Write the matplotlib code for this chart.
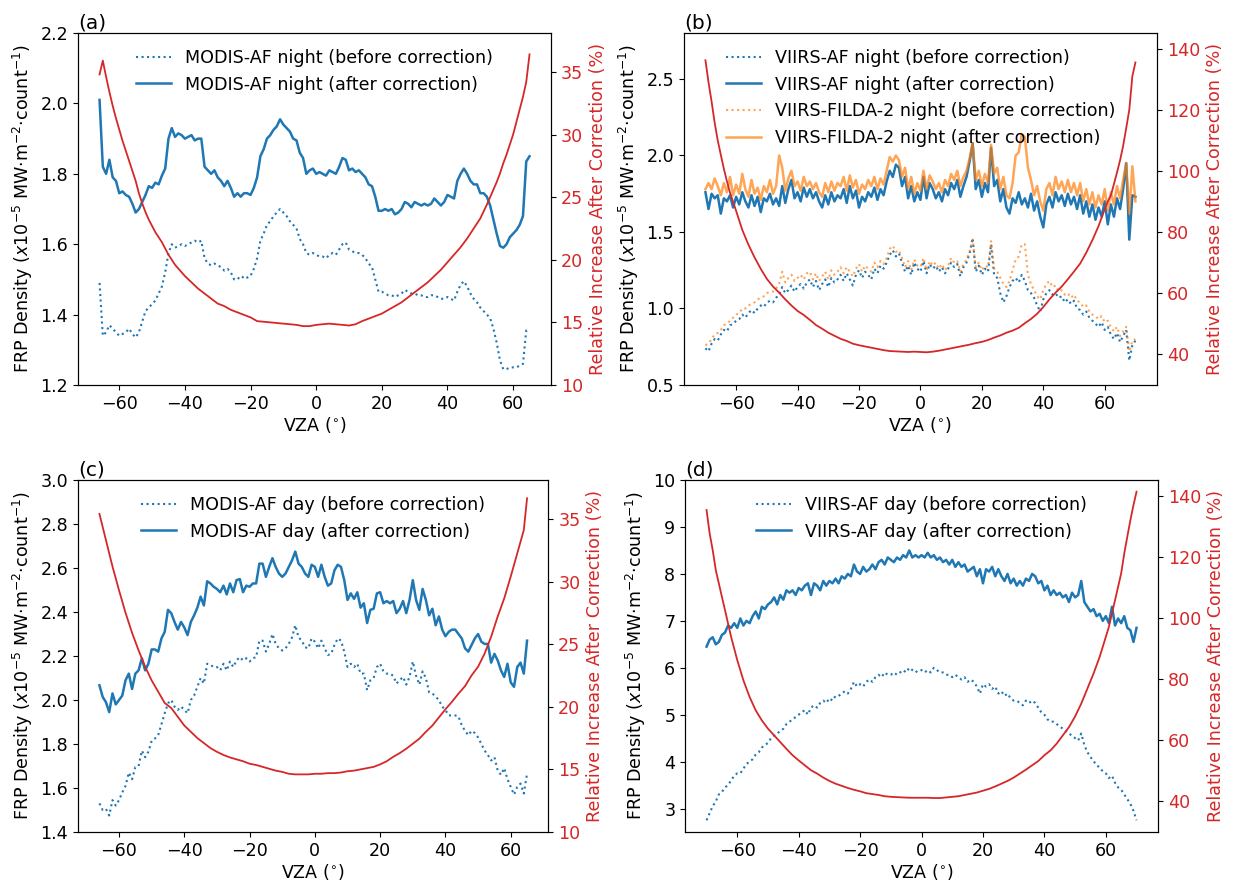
import numpy as np
import matplotlib
matplotlib.use("Agg")
import matplotlib.pyplot as plt

# ---------------- data ----------------
# Panel (a): MODIS-AF night, VZA -66..65 step 1
vza_modis = list(range(-66, 66))
modis_night_before = [
    1.49, 1.34, 1.35, 1.37, 1.36, 1.35, 1.34, 1.345, 1.35, 1.36, 1.345, 1.335, 1.35, 1.38, 1.41, 1.42,
    1.43, 1.44, 1.46, 1.48, 1.52, 1.575, 1.60, 1.59, 1.595, 1.60, 1.595, 1.60, 1.605, 1.61, 1.605, 1.61,
    1.56, 1.545, 1.54, 1.545, 1.54, 1.535, 1.525, 1.53, 1.52, 1.50, 1.505, 1.50, 1.51, 1.505, 1.51, 1.53,
    1.56, 1.61, 1.63, 1.655, 1.665, 1.68, 1.69, 1.70, 1.69, 1.68, 1.665, 1.655, 1.645, 1.615, 1.60, 1.575,
    1.57, 1.575, 1.57, 1.565, 1.565, 1.56, 1.57, 1.575, 1.57, 1.585, 1.60, 1.605, 1.585, 1.58, 1.575, 1.575,
    1.57, 1.56, 1.545, 1.535, 1.50, 1.465, 1.465, 1.46, 1.455, 1.455, 1.45, 1.455, 1.46, 1.47, 1.465, 1.46,
    1.46, 1.455, 1.455, 1.45, 1.45, 1.455, 1.455, 1.45, 1.445, 1.445, 1.45, 1.445, 1.44, 1.465, 1.485, 1.495,
    1.48, 1.46, 1.445, 1.435, 1.42, 1.41, 1.40, 1.39, 1.36, 1.32, 1.27, 1.245, 1.245, 1.25, 1.25, 1.25,
    1.255, 1.26, 1.355, 1.36]
modis_night_after = [
    2.01, 1.82, 1.80, 1.84, 1.79, 1.78, 1.745, 1.75, 1.74, 1.735, 1.715, 1.69, 1.70, 1.72, 1.74, 1.765,
    1.76, 1.775, 1.77, 1.795, 1.815, 1.90, 1.93, 1.905, 1.915, 1.91, 1.90, 1.905, 1.91, 1.895, 1.90, 1.90,
    1.82, 1.81, 1.80, 1.81, 1.79, 1.78, 1.765, 1.78, 1.76, 1.735, 1.745, 1.735, 1.745, 1.745, 1.74, 1.76,
    1.79, 1.85, 1.87, 1.90, 1.91, 1.925, 1.935, 1.955, 1.94, 1.93, 1.92, 1.90, 1.895, 1.86, 1.845, 1.80,
    1.81, 1.815, 1.80, 1.805, 1.80, 1.795, 1.81, 1.805, 1.80, 1.82, 1.845, 1.84, 1.81, 1.815, 1.805, 1.81,
    1.80, 1.79, 1.77, 1.765, 1.735, 1.695, 1.695, 1.70, 1.695, 1.70, 1.685, 1.69, 1.70, 1.72, 1.715, 1.705,
    1.72, 1.715, 1.71, 1.715, 1.71, 1.715, 1.73, 1.72, 1.71, 1.72, 1.74, 1.735, 1.73, 1.78, 1.80, 1.815,
    1.80, 1.78, 1.77, 1.77, 1.745, 1.745, 1.735, 1.71, 1.67, 1.63, 1.595, 1.59, 1.60, 1.62, 1.63, 1.64,
    1.655, 1.68, 1.835, 1.85]
vza_red_a = [-66, -65, -64, -63, -62, -61, -60, -59, -58, -57, -56, -55, -54, -53, -52, -51, -50, -49, -48,
             -47, -46, -45, -44, -43, -42, -41, -40, -38, -36, -34, -32, -30, -28, -26, -24, -22, -20, -18,
             -16, -14, -12, -10, -8, -6, -4, -2, 0, 2, 4, 6, 8, 10, 12, 14, 16, 18, 20, 22, 24, 26, 28, 30,
             32, 34, 36, 38, 40, 42, 44, 46, 48, 50, 52, 54, 55, 56, 57, 58, 59, 60, 61, 62, 63, 64, 65]
rel_inc_a = [34.8, 35.9, 34.6, 33.4, 32.3, 31.3, 30.4, 29.5, 28.7, 27.9, 27.1, 26.3, 25.3, 24.5, 23.8, 23.2,
             22.7, 22.2, 21.8, 21.4, 20.9, 20.4, 20.0, 19.6, 19.3, 19.0, 18.7, 18.2, 17.7, 17.3, 16.9, 16.5,
             16.3, 16.0, 15.8, 15.6, 15.4, 15.1, 15.05, 15.0, 14.95, 14.9, 14.85, 14.8, 14.7, 14.7, 14.8,
             14.85, 14.9, 14.85, 14.8, 14.75, 14.85, 15.1, 15.3, 15.5, 15.7, 16.0, 16.3, 16.6, 17.0, 17.4,
             17.8, 18.2, 18.7, 19.2, 19.8, 20.4, 21.0, 21.7, 22.5, 23.3, 24.4, 25.6, 26.2, 26.9, 27.7, 28.4,
             29.2, 30.0, 31.0, 32.0, 33.0, 34.2, 36.4]

# Panel (c): MODIS-AF day
modis_day_before = [
    1.53, 1.50, 1.505, 1.475, 1.545, 1.52, 1.545, 1.58, 1.61, 1.67, 1.64, 1.695, 1.70, 1.77, 1.74, 1.765,
    1.815, 1.825, 1.84, 1.89, 1.94, 1.985, 2.00, 1.97, 1.955, 1.97, 1.955, 1.94, 2.00, 2.02, 2.06, 2.10,
    2.075, 2.165, 2.16, 2.15, 2.15, 2.135, 2.165, 2.135, 2.175, 2.15, 2.18, 2.195, 2.18, 2.19, 2.175, 2.19,
    2.195, 2.27, 2.27, 2.22, 2.255, 2.30, 2.255, 2.235, 2.225, 2.235, 2.255, 2.285, 2.34, 2.285, 2.27, 2.24,
    2.235, 2.28, 2.265, 2.235, 2.27, 2.235, 2.205, 2.21, 2.25, 2.28, 2.27, 2.22, 2.15, 2.165, 2.15, 2.165,
    2.12, 2.12, 2.045, 2.09, 2.10, 2.15, 2.165, 2.13, 2.12, 2.12, 2.11, 2.075, 2.09, 2.105, 2.07, 2.105,
    2.175, 2.11, 2.07, 2.13, 2.10, 2.035, 2.03, 2.015, 2.00, 1.97, 1.955, 1.93, 1.93, 1.93, 1.925, 1.885,
    1.86, 1.84, 1.86, 1.85, 1.83, 1.80, 1.77, 1.75, 1.725, 1.74, 1.68, 1.66, 1.69, 1.64, 1.605, 1.57,
    1.605, 1.62, 1.575, 1.665]
modis_day_after = [
    2.067, 2.014, 1.99, 1.945, 2.03, 1.98, 2.00, 2.02, 2.09, 2.12, 2.05, 2.12, 2.135, 2.19, 2.135, 2.165,
    2.23, 2.23, 2.22, 2.28, 2.31, 2.41, 2.395, 2.355, 2.32, 2.355, 2.33, 2.295, 2.355, 2.385, 2.42, 2.47,
    2.43, 2.54, 2.53, 2.515, 2.505, 2.49, 2.52, 2.48, 2.53, 2.49, 2.545, 2.55, 2.49, 2.52, 2.515, 2.53,
    2.53, 2.62, 2.62, 2.56, 2.605, 2.645, 2.605, 2.575, 2.56, 2.575, 2.605, 2.635, 2.675, 2.62, 2.605, 2.575,
    2.56, 2.615, 2.605, 2.56, 2.615, 2.56, 2.52, 2.53, 2.59, 2.615, 2.605, 2.545, 2.455, 2.485, 2.46, 2.49,
    2.42, 2.44, 2.35, 2.41, 2.415, 2.485, 2.49, 2.44, 2.45, 2.44, 2.45, 2.395, 2.415, 2.45, 2.395, 2.455,
    2.545, 2.455, 2.41, 2.505, 2.455, 2.385, 2.415, 2.34, 2.38, 2.32, 2.29, 2.31, 2.32, 2.32, 2.30, 2.28,
    2.235, 2.22, 2.25, 2.28, 2.30, 2.265, 2.255, 2.255, 2.17, 2.21, 2.18, 2.135, 2.105, 2.165, 2.08, 2.06,
    2.15, 2.17, 2.12, 2.27]
vza_red_c = [-66, -64, -62, -60, -58, -56, -54, -52, -50, -48, -46, -44, -42, -40, -38, -36, -34, -32, -30,
             -28, -26, -24, -22, -20, -18, -16, -14, -12, -10, -8, -6, -4, -2, 0, 2, 4, 6, 8, 10, 12, 14,
             16, 18, 20, 22, 24, 26, 28, 30, 32, 34, 36, 38, 40, 42, 44, 46, 48, 50, 52, 54, 56, 58, 60,
             62, 64, 65]
rel_inc_c = [35.4, 33.3, 31.2, 29.3, 27.5, 25.9, 24.5, 23.2, 22.1, 21.2, 20.3, 19.9, 19.2, 18.5, 18.0, 17.5,
             17.1, 16.7, 16.4, 16.15, 15.95, 15.8, 15.65, 15.45, 15.35, 15.2, 15.05, 14.9, 14.8, 14.65, 14.6,
             14.6, 14.6, 14.65, 14.65, 14.7, 14.7, 14.75, 14.85, 14.9, 15.0, 15.1, 15.2, 15.4, 15.65, 16.0,
             16.3, 16.65, 17.05, 17.45, 18.0, 18.5, 19.15, 19.8, 20.4, 21.05, 21.65, 22.5, 23.2, 24.25, 25.6,
             27.2, 28.65, 30.4, 32.25, 34.1, 36.65]

# Panel (b): VIIRS night, VZA -70..70 step 1
vza_viirs = list(range(-70, 71))
viirs_af_night_before = [
    0.74, 0.72, 0.77, 0.80, 0.79, 0.83, 0.86, 0.85, 0.89, 0.90, 0.92, 0.93, 0.96, 0.94, 0.97, 0.99,
    0.97, 1.00, 1.02, 1.01, 1.04, 1.05, 1.04, 1.07, 1.09, 1.14, 1.10, 1.12, 1.15, 1.11, 1.14, 1.16,
    1.13, 1.17, 1.19, 1.14, 1.18, 1.12, 1.16, 1.19, 1.14, 1.20, 1.17, 1.19, 1.22, 1.18, 1.23, 1.19,
    1.15, 1.22, 1.25, 1.20, 1.24, 1.22, 1.19, 1.26, 1.23, 1.28, 1.26, 1.30, 1.35, 1.38, 1.34, 1.36,
    1.30, 1.24, 1.28, 1.22, 1.30, 1.26, 1.24, 1.31, 1.23, 1.29, 1.26, 1.28, 1.24, 1.27, 1.23, 1.26,
    1.30, 1.27, 1.29, 1.21, 1.27, 1.30, 1.36, 1.46, 1.24, 1.28, 1.22, 1.26, 1.24, 1.42, 1.22, 1.20,
    1.10, 1.04, 1.08, 1.14, 1.18, 1.20, 1.17, 1.22, 1.18, 1.12, 1.10, 1.07, 1.02, 0.98, 1.06, 1.10,
    1.12, 1.09, 1.10, 1.07, 1.08, 1.04, 1.06, 1.03, 1.05, 1.00, 0.99, 0.96, 0.98, 0.94, 0.92, 0.90,
    0.88, 0.91, 0.86, 0.88, 0.83, 0.80, 0.84, 0.78, 0.82, 0.86, 0.66, 0.76, 0.79]
viirs_af_night_after = [
    1.76, 1.65, 1.75, 1.72, 1.74, 1.62, 1.72, 1.70, 1.74, 1.66, 1.73, 1.68, 1.76, 1.70, 1.66, 1.74,
    1.67, 1.73, 1.63, 1.72, 1.70, 1.75, 1.68, 1.72, 1.67, 1.80, 1.69, 1.78, 1.84, 1.72, 1.76, 1.70,
    1.79, 1.73, 1.78, 1.72, 1.76, 1.70, 1.66, 1.74, 1.68, 1.76, 1.70, 1.74, 1.72, 1.78, 1.69, 1.80,
    1.72, 1.77, 1.66, 1.73, 1.70, 1.76, 1.73, 1.79, 1.71, 1.78, 1.74, 1.83, 1.90, 1.86, 1.94, 1.92,
    1.80, 1.86, 1.72, 1.80, 1.70, 1.76, 1.71, 1.86, 1.72, 1.82, 1.78, 1.72, 1.76, 1.70, 1.78, 1.74,
    1.82, 1.78, 1.84, 1.73, 1.80, 1.86, 1.96, 2.08, 1.78, 1.84, 1.73, 1.82, 1.76, 2.05, 1.80, 1.84,
    1.70, 1.78, 1.66, 1.62, 1.72, 1.69, 1.76, 1.68, 1.72, 1.66, 1.75, 1.64, 1.70, 1.60, 1.53, 1.68,
    1.73, 1.66, 1.76, 1.70, 1.74, 1.67, 1.75, 1.68, 1.73, 1.65, 1.74, 1.62, 1.70, 1.60, 1.68, 1.58,
    1.66, 1.60, 1.70, 1.55, 1.68, 1.60, 1.72, 1.65, 1.78, 1.95, 1.45, 1.74, 1.73]
filda_night_before = [
    0.76, 0.77, 0.80, 0.83, 0.84, 0.86, 0.89, 0.90, 0.92, 0.94, 0.96, 0.97, 1.00, 1.00, 1.02, 1.03,
    1.04, 1.06, 1.07, 1.08, 1.10, 1.11, 1.11, 1.13, 1.16, 1.24, 1.17, 1.20, 1.22, 1.18, 1.20, 1.22,
    1.19, 1.23, 1.24, 1.19, 1.23, 1.18, 1.21, 1.24, 1.19, 1.25, 1.22, 1.24, 1.27, 1.23, 1.27, 1.24,
    1.21, 1.26, 1.29, 1.24, 1.28, 1.26, 1.24, 1.30, 1.27, 1.31, 1.29, 1.33, 1.39, 1.41, 1.37, 1.38,
    1.33, 1.27, 1.31, 1.25, 1.32, 1.28, 1.27, 1.33, 1.25, 1.31, 1.28, 1.30, 1.26, 1.29, 1.25, 1.28,
    1.33, 1.30, 1.31, 1.24, 1.29, 1.32, 1.37, 1.45, 1.27, 1.30, 1.25, 1.28, 1.27, 1.44, 1.26, 1.24,
    1.20, 1.16, 1.14, 1.18, 1.25, 1.32, 1.34, 1.42, 1.42, 1.22, 1.16, 1.12, 1.08, 1.06, 1.12, 1.16,
    1.18, 1.14, 1.15, 1.11, 1.12, 1.09, 1.10, 1.07, 1.09, 1.05, 1.04, 1.01, 1.02, 0.98, 0.96, 0.95,
    0.93, 0.95, 0.91, 0.92, 0.88, 0.85, 0.88, 0.82, 0.85, 0.88, 0.72, 0.79, 0.80]
filda_night_after = [
    1.78, 1.82, 1.78, 1.85, 1.80, 1.74, 1.82, 1.76, 1.86, 1.74, 1.81, 1.75, 1.88, 1.78, 1.73, 1.84,
    1.75, 1.79, 1.71, 1.80, 1.76, 1.84, 1.75, 1.80, 2.00, 1.92, 1.77, 1.85, 1.90, 1.80, 1.83, 1.77,
    1.86, 1.80, 1.83, 1.78, 1.82, 1.76, 1.73, 1.82, 1.76, 1.83, 1.77, 1.82, 1.80, 1.86, 1.77, 1.87,
    1.79, 1.84, 1.75, 1.81, 1.78, 1.84, 1.80, 1.86, 1.78, 1.85, 1.81, 1.90, 1.99, 1.96, 2.00, 1.97,
    1.86, 1.92, 1.78, 1.86, 1.75, 1.82, 1.77, 1.90, 1.78, 1.87, 1.83, 1.78, 1.82, 1.76, 1.84, 1.80,
    1.88, 1.84, 1.90, 1.80, 1.86, 1.90, 1.98, 2.08, 1.84, 1.90, 1.80, 1.88, 1.82, 2.07, 1.88, 1.92,
    1.78, 1.86, 1.74, 1.72, 1.82, 2.00, 2.02, 2.14, 2.12, 1.92, 1.84, 1.74, 1.80, 1.70, 1.64, 1.78,
    1.82, 1.74, 1.86, 1.78, 1.83, 1.76, 1.84, 1.76, 1.82, 1.74, 1.82, 1.70, 1.78, 1.68, 1.76, 1.66,
    1.74, 1.68, 1.78, 1.64, 1.76, 1.68, 1.80, 1.72, 1.84, 1.95, 1.62, 1.93, 1.70]
vza_red_b = [-70, -69, -68, -67, -66, -65, -64, -63, -62, -61, -60, -58, -56, -54, -52, -50, -48, -46, -44,
             -42, -40, -38, -36, -34, -32, -30, -28, -26, -24, -22, -20, -18, -16, -14, -12, -10, -8, -6,
             -4, -2, 0, 2, 4, 6, 8, 10, 12, 14, 16, 18, 20, 22, 24, 26, 28, 30, 32, 34, 36, 38, 40, 42, 44,
             46, 48, 50, 52, 54, 56, 58, 60, 61, 62, 63, 64, 65, 66, 67, 68, 69, 70]
rel_inc_b = [136.2, 129.0, 122.7, 115.8, 110.0, 105.3, 100.7, 96.6, 92.9, 89.9, 86.9, 80.7, 75.9, 71.7, 68.0,
             64.7, 62.2, 60.2, 58.0, 56.0, 54.2, 52.9, 51.3, 49.6, 48.4, 47.1, 46.1, 45.1, 44.4, 43.5, 43.0,
             42.6, 42.2, 41.8, 41.4, 41.1, 41.0, 40.9, 40.8, 40.9, 40.8, 40.7, 40.9, 41.2, 41.6, 42.0, 42.4,
             42.8, 43.2, 43.7, 44.1, 44.7, 45.5, 46.2, 47.1, 47.8, 48.7, 50.2, 51.6, 53.3, 55.5, 58.0, 60.2,
             62.2, 64.6, 67.1, 69.7, 73.3, 77.4, 82.0, 87.5, 90.1, 92.0, 95.7, 99.5, 103.5, 108.2, 114.0,
             120.0, 131.0, 135.5]

# Panel (d): VIIRS day
viirs_day_before = [
    2.75, 2.9, 3.05, 3.15, 3.3, 3.35, 3.45, 3.5, 3.6, 3.7, 3.75, 3.75, 3.85, 3.95, 4.0, 4.05,
    4.15, 4.2, 4.3, 4.35, 4.4, 4.5, 4.55, 4.6, 4.65, 4.7, 4.8, 4.85, 4.9, 4.95, 5.0, 5.05,
    5.1, 5.0, 5.15, 5.2, 5.15, 5.25, 5.3, 5.25, 5.35, 5.3, 5.4, 5.4, 5.45, 5.5, 5.45, 5.55,
    5.7, 5.6, 5.65, 5.6, 5.7, 5.75, 5.7, 5.8, 5.85, 5.8, 5.9, 5.85, 5.85, 5.9, 5.85, 5.9,
    5.95, 5.9, 6.0, 5.95, 5.9, 5.95, 5.95, 5.9, 5.95, 5.9, 6.0, 5.95, 5.9, 5.9, 5.85, 5.85,
    5.8, 5.85, 5.8, 5.75, 5.8, 5.7, 5.75, 5.7, 5.6, 5.45, 5.65, 5.6, 5.65, 5.55, 5.6, 5.45,
    5.5, 5.4, 5.45, 5.35, 5.3, 5.3, 5.25, 5.2, 5.3, 5.25, 5.3, 5.25, 5.15, 5.05, 5.0, 4.9,
    4.85, 4.85, 4.8, 4.75, 4.7, 4.65, 4.6, 4.55, 4.5, 4.45, 4.6, 4.35, 4.2, 4.1, 4.0, 3.95,
    3.85, 3.8, 3.75, 3.65, 3.7, 3.55, 3.45, 3.4, 3.3, 3.2, 3.1, 2.95, 2.75]
viirs_day_after = [
    6.45, 6.6, 6.65, 6.5, 6.55, 6.7, 6.75, 6.9, 6.85, 6.95, 6.85, 7.05, 6.9, 7.0, 6.95, 7.1,
    7.2, 7.05, 7.3, 7.25, 7.35, 7.4, 7.5, 7.35, 7.55, 7.45, 7.65, 7.6, 7.65, 7.55, 7.7, 7.65,
    7.75, 7.8, 7.55, 7.8, 7.75, 7.65, 7.85, 7.75, 7.85, 7.8, 7.9, 7.8, 7.95, 7.9, 8.0, 7.95,
    8.2, 8.05, 8.0, 8.15, 8.05, 8.1, 8.2, 8.1, 8.25, 8.3, 8.2, 8.35, 8.3, 8.25, 8.35, 8.3,
    8.4, 8.35, 8.5, 8.35, 8.4, 8.35, 8.4, 8.35, 8.45, 8.35, 8.4, 8.3, 8.35, 8.25, 8.3, 8.2,
    8.3, 8.15, 8.25, 8.15, 8.2, 8.05, 8.1, 8.15, 7.95, 8.1, 7.8, 8.1, 8.05, 8.15, 7.95, 8.1,
    7.95, 7.85, 8.0, 7.8, 7.9, 7.75, 7.85, 7.75, 7.9, 7.85, 8.0, 7.95, 7.8, 7.85, 7.65, 7.75,
    7.55, 7.65, 7.55, 7.6, 7.5, 7.55, 7.4, 7.6, 7.5, 7.55, 7.85, 7.4, 7.3, 7.2, 7.25, 7.1,
    7.15, 7.0, 7.1, 6.95, 7.3, 6.9, 7.05, 6.95, 7.1, 6.85, 6.8, 6.55, 6.85]
vza_red_d = [-70, -69, -68, -67, -66, -65, -64, -63, -62, -60, -58, -56, -54, -52, -50, -48, -46, -44, -42,
             -40, -38, -36, -34, -32, -30, -28, -26, -24, -22, -20, -18, -16, -14, -12, -10, -8, -6, -4,
             -2, 0, 2, 4, 6, 8, 10, 12, 14, 16, 18, 20, 22, 24, 26, 28, 30, 32, 34, 36, 38, 40, 42, 44, 46,
             48, 50, 52, 54, 56, 58, 60, 61, 62, 63, 64, 65, 66, 67, 68, 69, 70]
rel_inc_d = [135.3, 127.7, 122.2, 115.7, 111.3, 106.9, 102.6, 98.2, 93.8, 86.2, 79.6, 74.2, 69.8, 66.5, 63.8,
             61.6, 59.4, 57.2, 55.1, 53.4, 51.8, 50.2, 49.1, 47.8, 46.7, 45.8, 45.1, 44.4, 43.8, 43.3, 42.7,
             42.4, 42.1, 41.7, 41.5, 41.4, 41.3, 41.2, 41.2, 41.2, 41.2, 41.1, 41.1, 41.3, 41.5, 41.7, 42.1,
             42.5, 42.9, 43.5, 44.1, 44.9, 45.8, 46.7, 47.8, 49.1, 50.4, 51.8, 53.2, 55.1, 56.7, 58.9, 61.6,
             64.3, 67.8, 72.0, 76.9, 81.8, 87.3, 93.8, 97.1, 101.5, 105.8, 110.2, 114.6, 121.1, 126.6, 132.0,
             136.9, 141.3]

# ---------------- style ----------------
BLUE = '#1f77b4'
ORANGE = '#ff7f0e'
RED = '#d62728'
FS = 12.6
plt.rcParams['font.family'] = ['DejaVu Sans']
plt.rcParams['font.size'] = FS

ylab = r'FRP Density ($x10^{-5}$ MW·m$^{-2}$·count$^{-1}$)'
rlab = 'Relative Increase After Correction (%)'

fig = plt.figure(figsize=(12.33, 8.82), dpi=100)
W = 0.3836
H = 0.399
ax_a = fig.add_axes([0.0633, 0.5635, W, H])
ax_b = fig.add_axes([0.5547, 0.5635, W, H])
ax_c = fig.add_axes([0.0633, 0.0567, 0.3815, H])
ax_d = fig.add_axes([0.5556, 0.0567, W, H])


def decorate(ax, label, ylim, rx, ry, rylim, rticks):
    ax.set_title(label, loc='left', fontsize=14.5, pad=3)
    ax.set_xlabel('VZA ($^{\\circ}$)', fontsize=FS, labelpad=1.5)
    ax.set_ylabel(ylab, fontsize=FS)
    ax.set_ylim(*ylim)
    ax.set_xticks([-60, -40, -20, 0, 20, 40, 60])
    ax.tick_params(labelsize=FS)
    ax.legend(loc='upper center', frameon=False, fontsize=FS)
    ax2 = ax.twinx()
    ax2.plot(rx, ry, color=RED, lw=1.3)
    ax2.set_ylim(*rylim)
    ax2.set_yticks(rticks)
    ax2.set_ylabel(rlab, color=RED, fontsize=FS)
    ax2.tick_params(axis='y', labelcolor=RED, labelsize=FS)
    return ax2


# (a)
ax_a.plot(vza_modis, modis_night_before, ':', color=BLUE, lw=1.5, label='MODIS-AF night (before correction)')
ax_a.plot(vza_modis, modis_night_after, '-', color=BLUE, lw=1.8, label='MODIS-AF night (after correction)')
decorate(ax_a, '(a)', (1.2, 2.2), vza_red_a, rel_inc_a, (10, 38.1), [10, 15, 20, 25, 30, 35])

# (b)
ax_b.plot(vza_viirs, viirs_af_night_before, ':', color=BLUE, lw=1.5, label='VIIRS-AF night (before correction)')
ax_b.plot(vza_viirs, viirs_af_night_after, '-', color=BLUE, lw=1.8, label='VIIRS-AF night (after correction)')
ax_b.plot(vza_viirs, filda_night_before, ':', color=ORANGE, lw=1.5, alpha=0.7,
          label='VIIRS-FILDA-2 night (before correction)')
ax_b.plot(vza_viirs, filda_night_after, '-', color=ORANGE, lw=1.8, alpha=0.7,
          label='VIIRS-FILDA-2 night (after correction)')
decorate(ax_b, '(b)', (0.5, 2.8), vza_red_b, rel_inc_b, (30, 145.1), [40, 60, 80, 100, 120, 140])

# (c)
ax_c.plot(vza_modis, modis_day_before, ':', color=BLUE, lw=1.5, label='MODIS-AF day (before correction)')
ax_c.plot(vza_modis, modis_day_after, '-', color=BLUE, lw=1.8, label='MODIS-AF day (after correction)')
decorate(ax_c, '(c)', (1.4, 3.0), vza_red_c, rel_inc_c, (10, 38.1), [10, 15, 20, 25, 30, 35])

# (d)
ax_d.plot(vza_viirs, viirs_day_before, ':', color=BLUE, lw=1.5, label='VIIRS-AF day (before correction)')
ax_d.plot(vza_viirs, viirs_day_after, '-', color=BLUE, lw=1.8, label='VIIRS-AF day (after correction)')
decorate(ax_d, '(d)', (2.5, 10), vza_red_d, rel_inc_d, (30, 145.1), [40, 60, 80, 100, 120, 140])

fig.savefig('out.png', dpi=100)
